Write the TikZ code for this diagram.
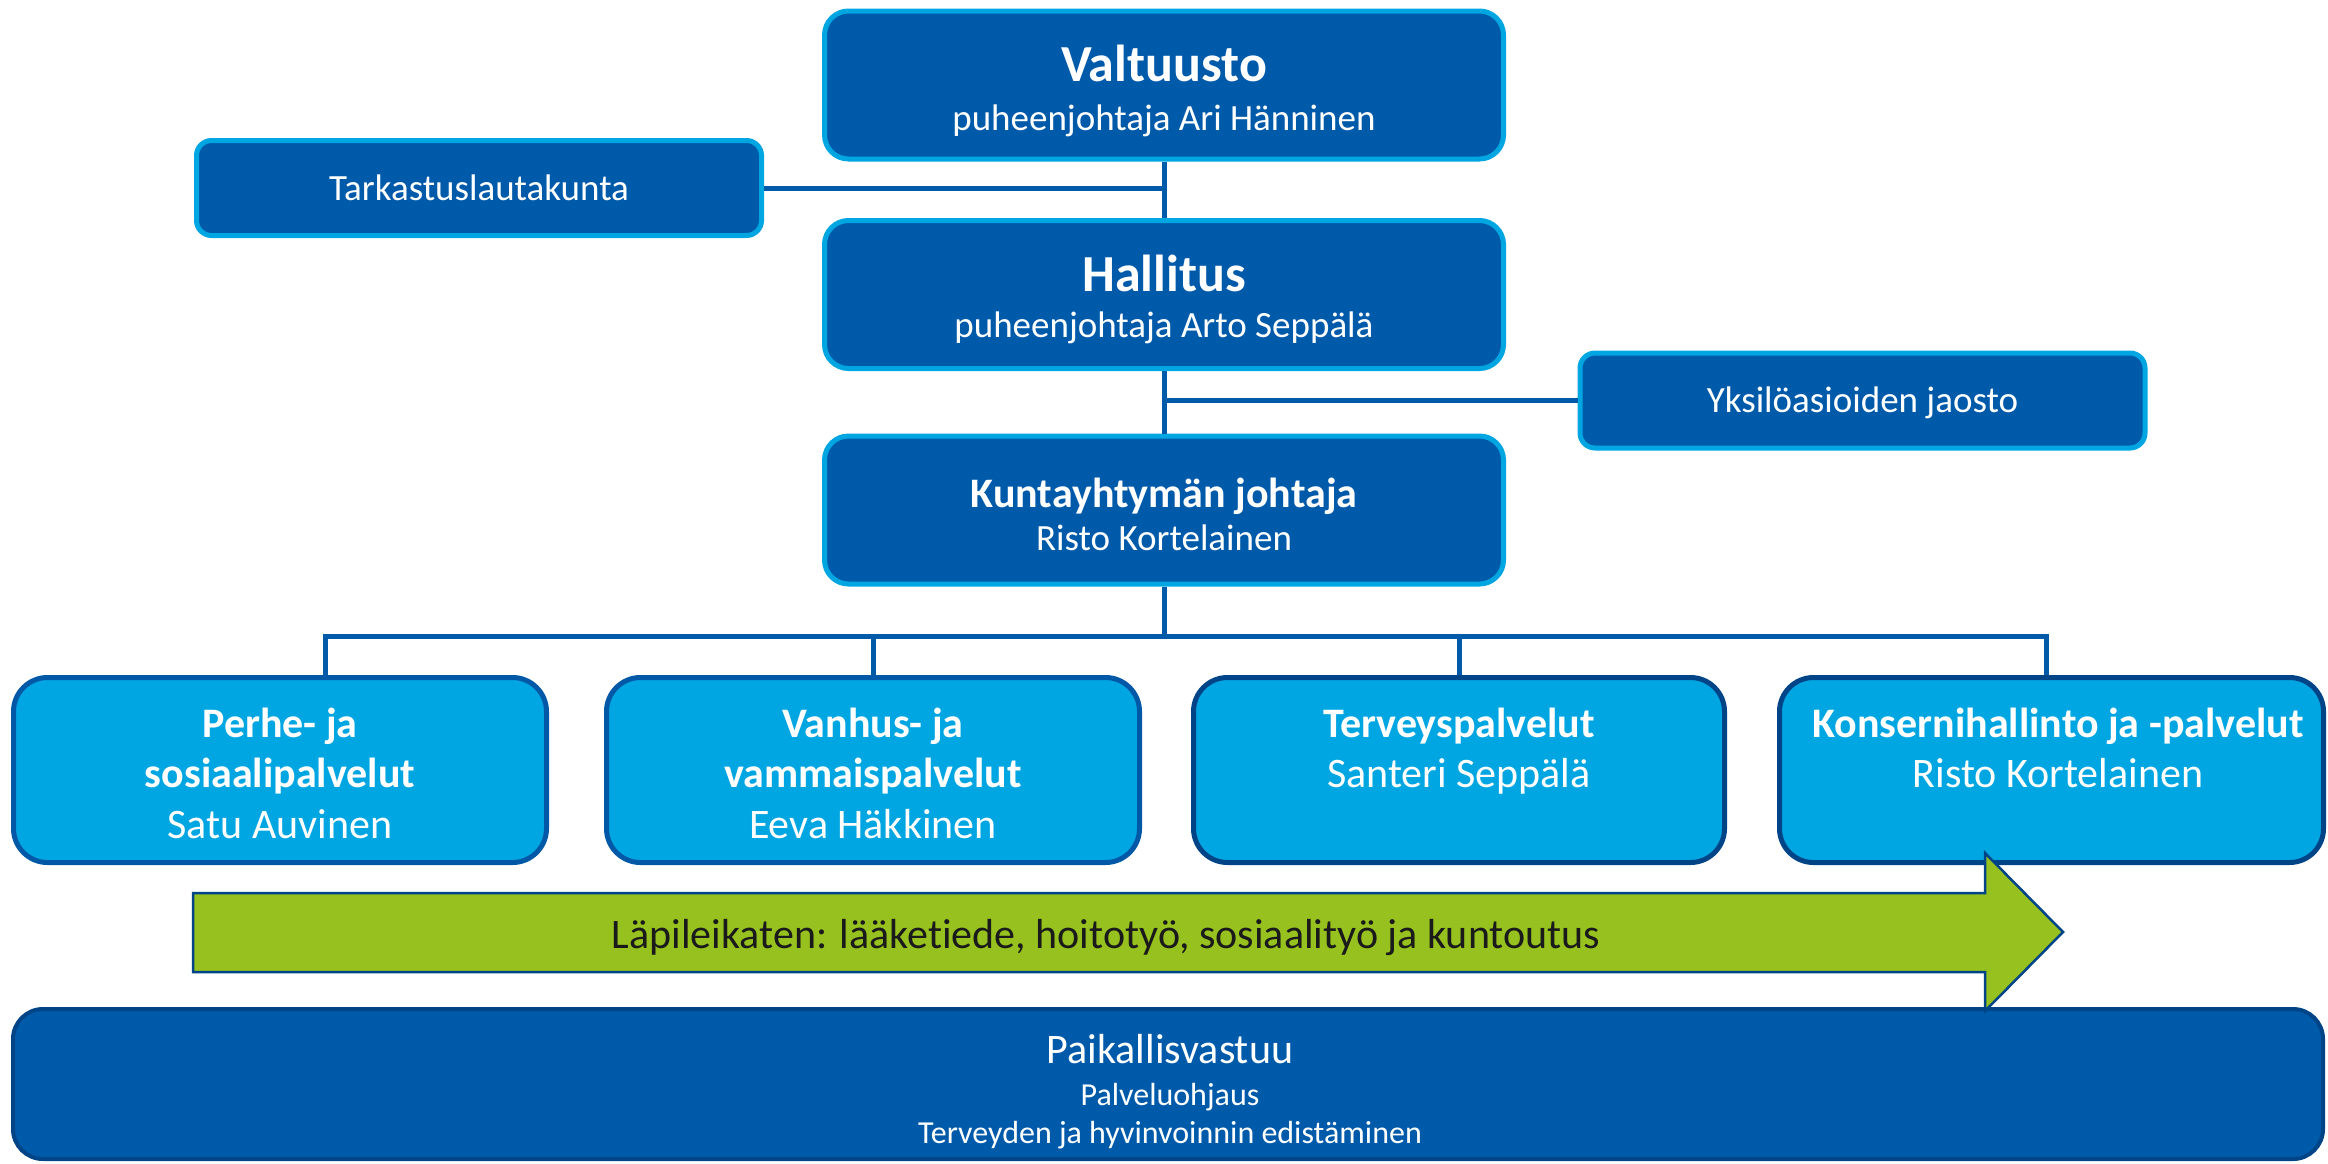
\documentclass[tikz,border=0pt]{standalone}
\usepackage{fontspec}
\setmainfont{Carlito}[Ligatures=NoCommon]
\definecolor{dblue}{RGB}{0,90,170}
\definecolor{lblue}{RGB}{0,166,226}
\definecolor{navy}{RGB}{0,68,136}
\definecolor{mblue}{RGB}{0,88,166}
\definecolor{lgreen}{RGB}{150,193,30}
\definecolor{darktext}{RGB}{26,26,26}
\begin{document}
\begin{tikzpicture}[x=1pt,y=-1pt,
  govbox/.style={draw=lblue, fill=dblue, line width=5pt, rounded corners=24pt, minimum width=679pt, minimum height=148pt, inner sep=0pt},
  sidebox/.style={draw=lblue, fill=dblue, line width=5pt, rounded corners=15pt, minimum width=565pt, minimum height=95pt, inner sep=0pt},
  unitbox/.style={fill=lblue, line width=5pt, rounded corners=34pt, minimum height=185pt, inner sep=0pt},
  conn/.style={draw=dblue, line width=5pt},
  txt/.style={anchor=base, inner sep=0pt, text=white},
  fbig/.style={font=\fontsize{52}{60}\selectfont\bfseries},
  fsub/.style={font=\fontsize{37}{44}\selectfont},
  fmid/.style={font=\fontsize{42}{50}\selectfont\bfseries},
  fname/.style={font=\fontsize{42}{50}\selectfont},
  fsmall/.style={font=\fontsize{32}{38}\selectfont},
]
\useasboundingbox (0,0) rectangle (2328,1163);

% connector points
\coordinate (busL) at (325,636);
\coordinate (busM) at (1164,636);
\coordinate (busR) at (2046,636);
\coordinate (dropB) at (873,636);
\coordinate (dropC) at (1459,636);

% governance boxes
\node[govbox] (val) at (1164,85) {};
\node[govbox] (hal) at (1164,294.5) {};
\node[govbox] (kun) at (1164,510) {};
\node[sidebox] (tark) at (479,188) {};
\node[sidebox] (yks) at (1862.5,400.5) {};

% unit boxes
\node[unitbox, draw=mblue, minimum width=533pt] (perhe) at (280,770) {};
\node[unitbox, draw=mblue, minimum width=533pt] (vanhus) at (873,770) {};
\node[unitbox, draw=navy, minimum width=531pt] (terveys) at (1459,770) {};
\node[unitbox, draw=navy, minimum width=544pt] (konserni) at (2051.5,770) {};

% lines
\draw[conn] (val.south) -- (hal.north);
\draw[conn] (tark.east) -- (tark.east -| val.south);
\draw[conn] (hal.south) -- (kun.north);
\draw[conn] (yks.west) -- (yks.west -| hal.south);
\draw[conn] (kun.south) -- (busM);
\draw[conn] (perhe.north -| busL) -- (busL) -- (busR) -- (konserni.north -| busR);
\draw[conn] (dropB) -- (vanhus.north);
\draw[conn] (dropC) -- (terveys.north);

% texts
\node[txt,fbig] (valT) at (1164,81) {Valtuusto};
\node[txt,fsub] (valS) at (1164,130) {puheenjohtaja Ari Hänninen};
\node[txt,fbig] (halT) at (1164,291) {Hallitus};
\node[txt,fsub] (halS) at (1164,337) {puheenjohtaja Arto Seppälä};
\node[txt,fmid] (kunT) at (1164,507) {Kuntayhtymän johtaja};
\node[txt,fsub] (kunS) at (1164,550) {Risto Kortelainen};
\node[txt,fsub] (tarkT) at (479,200) {Tarkastuslautakunta};
\node[txt,fsub] (yksT) at (1862.5,412) {Yksilöasioiden jaosto};

\node[txt,fmid] (perheA) at (280,737) {Perhe- ja};
\node[txt,fmid] (perheB) at (280,787) {sosiaalipalvelut};
\node[txt,fname] (perheC) at (280,838) {Satu Auvinen};
\node[txt,fmid] (vanhusA) at (873,737) {Vanhus- ja};
\node[txt,fmid] (vanhusB) at (873,787) {vammaispalvelut};
\node[txt,fname] (vanhusC) at (873,838) {Eeva Häkkinen};
\node[txt,fmid] (terveysA) at (1459,737) {Terveyspalvelut};
\node[txt,fname] (terveysB) at (1459,787) {Santeri Seppälä};
\node[txt,fmid] (konserniA) at (2058,737) {Konsernihallinto ja -palvelut};
\node[txt,fname] (konserniB) at (2058,787) {Risto Kortelainen};

% bottom box
\node[draw=navy, fill=dblue, line width=4pt, rounded corners=30pt, minimum width=2310pt, minimum height=150pt, inner sep=0pt] (paik) at (1168,1084) {};
\node[txt,fname] (paikA) at (1170,1063) {Paikallisvastuu};
\node[txt,fsmall] (paikB) at (1170,1105) {Palveluohjaus};
\node[txt,fsmall] (paikC) at (1170,1143) {Terveyden ja hyvinvoinnin edistäminen};

% cross-cutting arrow
\draw[draw=navy, fill=lgreen, line width=2.5pt, line join=miter]
  (193,893) -- (1985,893) -- (1985,853) -- (2063,932) -- (1985,1011) -- (1985,972) -- (193,972) -- cycle;
\node[anchor=base, inner sep=0pt, text=darktext, font=\fontsize{42}{50}\selectfont] (cross) at (1106,948) {Läpileikaten: lääketiede, hoitotyö, sosiaalityö ja kuntoutus};
\end{tikzpicture}
\end{document}
